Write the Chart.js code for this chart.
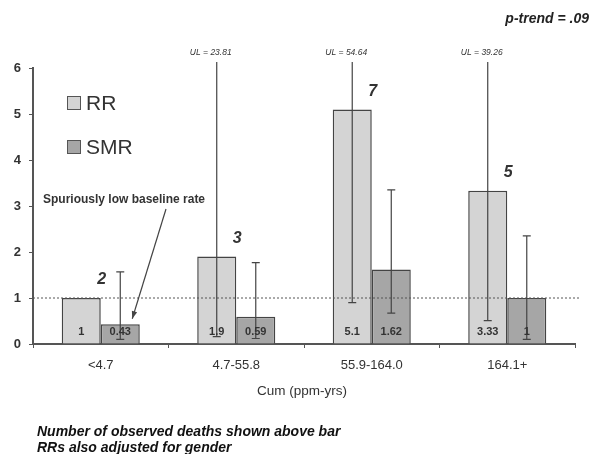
<!DOCTYPE html>
<html>
<head>
<meta charset="utf-8">
<script src="https://cdn.jsdelivr.net/npm/chart.js@4.4.1/dist/chart.umd.min.js"></script>
<style>
  html, body { margin: 0; padding: 0; background: #fff; }
  #wrap { width: 592px; height: 454px; }
</style>
</head>
<body>
<div id="wrap"><canvas id="chart" width="592" height="454"></canvas></div>
<script>
// values
const categories = ['<4.7', '4.7-55.8', '55.9-164.0', '164.1+'];
const rr = [1, 1.9, 5.1, 3.33];
const smr = [0.43, 0.59, 1.62, 1.0];
const rrLabels = ['1', '1.9', '5.1', '3.33'];
const smrLabels = ['0.43', '0.59', '1.62', '1'];
const rrLow = [null, 0.16, 0.9, 0.51];
const rrHigh = [null, 23.81, 54.64, 39.26];
const smrLow = [0.1, 0.12, 0.67, 0.1];
const smrHigh = [1.57, 1.77, 3.35, 2.35];
const deaths = [2, 3, 7, 5];
const yTicks = [0, 1, 2, 3, 4, 5, 6];

const FONT = 'Arial, "Liberation Sans", sans-serif';
const INK = '#333';

const overlay = {
    id: 'overlay',
    afterDatasetsDraw(chart) {
        const ctx = chart.ctx;
        const area = chart.chartArea;
        const y = chart.scales.y;
        const rrMeta = chart.getDatasetMeta(0);
        const smrMeta = chart.getDatasetMeta(1);
        ctx.save();

        // reference line at 1
        ctx.strokeStyle = '#555';
        ctx.lineWidth = 1;
        ctx.setLineDash([2, 2]);
        ctx.beginPath();
        ctx.moveTo(area.left, y.getPixelForValue(1));
        ctx.lineTo(area.right + 5, y.getPixelForValue(1));
        ctx.stroke();
        ctx.setLineDash([]);

        // error bars
        const drawBar = (x, lo, hi) => {
            const top = hi > 6 ? area.top - 6 : y.getPixelForValue(hi);
            const bottom = y.getPixelForValue(lo);
            ctx.strokeStyle = '#444';
            ctx.lineWidth = 1.2;
            ctx.beginPath();
            ctx.moveTo(x, top);
            ctx.lineTo(x, bottom);
            ctx.moveTo(x - 4, bottom);
            ctx.lineTo(x + 4, bottom);
            if (hi <= 6) {
                ctx.moveTo(x - 4, top);
                ctx.lineTo(x + 4, top);
            }
            ctx.stroke();
        };
        rrMeta.data.forEach((bar, i) => {
            if (rrLow[i] !== null) drawBar(bar.x, rrLow[i], rrHigh[i]);
        });
        smrMeta.data.forEach((bar, i) => drawBar(bar.x, smrLow[i], smrHigh[i]));

        // upper limits off the chart
        ctx.fillStyle = INK;
        ctx.font = 'italic 8.5px ' + FONT;
        ctx.textAlign = 'center';
        ctx.textBaseline = 'middle';
        rrMeta.data.forEach((bar, i) => {
            if (rrHigh[i] !== null && rrHigh[i] > 6) {
                ctx.fillText('UL = ' + rrHigh[i].toFixed(2), bar.x - 6, area.top - 15);
            }
        });

        // values inside bars
        ctx.font = 'bold 11px ' + FONT;
        rrMeta.data.forEach((bar, i) => ctx.fillText(rrLabels[i], bar.x, y.getPixelForValue(0) - 12));
        smrMeta.data.forEach((bar, i) => ctx.fillText(smrLabels[i], bar.x, y.getPixelForValue(0) - 12));

        // observed deaths
        ctx.font = 'italic bold 16px ' + FONT;
        rrMeta.data.forEach((bar, i) => {
            ctx.fillText(String(deaths[i]), bar.x + bar.width / 2 + 1, bar.y - 18);
        });

        // legend
        const items = [['RR', chart.data.datasets[0].backgroundColor, 103], ['SMR', chart.data.datasets[1].backgroundColor, 147]];
        items.forEach(([label, color, cy]) => {
            ctx.fillStyle = color;
            ctx.fillRect(67, cy - 7, 14, 14);
            ctx.strokeStyle = '#555';
            ctx.lineWidth = 1;
            ctx.strokeRect(67.5, cy - 6.5, 13, 13);
            ctx.fillStyle = INK;
            ctx.font = '21px ' + FONT;
            ctx.textAlign = 'left';
            ctx.fillText(label, 86, cy + 1);
        });

        // annotation with arrow
        ctx.font = 'bold 12px ' + FONT;
        ctx.fillStyle = INK;
        ctx.textAlign = 'left';
        ctx.fillText('Spuriously low baseline rate', 43, 200);
        const ax = smrMeta.data[0].x + 12;
        const ay = y.getPixelForValue(0.55);
        ctx.strokeStyle = '#444';
        ctx.lineWidth = 1.2;
        ctx.beginPath();
        ctx.moveTo(166, 209);
        ctx.lineTo(ax, ay);
        ctx.stroke();
        const ang = Math.atan2(ay - 209, ax - 166);
        ctx.beginPath();
        ctx.moveTo(ax, ay);
        ctx.lineTo(ax - 8 * Math.cos(ang - 0.35), ay - 8 * Math.sin(ang - 0.35));
        ctx.lineTo(ax - 8 * Math.cos(ang + 0.35), ay - 8 * Math.sin(ang + 0.35));
        ctx.closePath();
        ctx.fillStyle = '#444';
        ctx.fill();

        // title texts
        ctx.fillStyle = '#222';
        ctx.font = 'italic bold 14px ' + FONT;
        ctx.textAlign = 'right';
        ctx.fillText('p-trend = .09', 589, 19);

        ctx.fillStyle = INK;
        ctx.font = '13.5px ' + FONT;
        ctx.textAlign = 'center';
        ctx.fillText('Cum (ppm-yrs)', 302, 391);

        ctx.font = 'italic bold 14px ' + FONT;
        ctx.textAlign = 'left';
        ctx.fillStyle = '#111';
        ctx.fillText('Number of observed deaths shown above bar', 37, 432);
        ctx.fillText('RRs also adjusted for gender', 37, 448);
        ctx.restore();
    }
};

new Chart(document.getElementById('chart'), {
    type: 'bar',
    data: {
        labels: categories,
        datasets: [
            { label: 'RR', data: rr, backgroundColor: '#d4d4d4', borderColor: '#444', borderWidth: 1.5 },
            { label: 'SMR', data: smr, backgroundColor: '#a6a6a6', borderColor: '#444', borderWidth: 1.5 }
        ]
    },
    options: {
        responsive: false,
        animation: false,
        events: [],
        layout: { padding: { left: 0, top: 68, right: 17, bottom: 80 } },
        datasets: { bar: { barPercentage: 1, categoryPercentage: 0.576 } },
        plugins: { legend: { display: false }, tooltip: { enabled: false } },
        scales: {
            x: {
                afterFit: (scale) => { scale.height = 30; },
                grid: { drawOnChartArea: false, drawTicks: true, tickLength: 4, offset: true, color: '#555' },
                border: { color: '#555', width: 2 },
                ticks: { color: INK, font: { family: FONT, size: 13 }, padding: 10 }
            },
            y: {
                min: 0,
                max: 6,
                afterFit: (scale) => { scale.width = 33; },
                afterBuildTicks: (scale) => { scale.ticks = yTicks.map(v => ({ value: v })); },
                grid: { drawOnChartArea: false, drawTicks: true, tickLength: 4, color: '#555' },
                border: { color: '#555', width: 2 },
                ticks: { color: INK, font: { family: FONT, size: 13, weight: 'bold' }, padding: 8 }
            }
        }
    },
    plugins: [overlay]
});
</script>
</body>
</html>
